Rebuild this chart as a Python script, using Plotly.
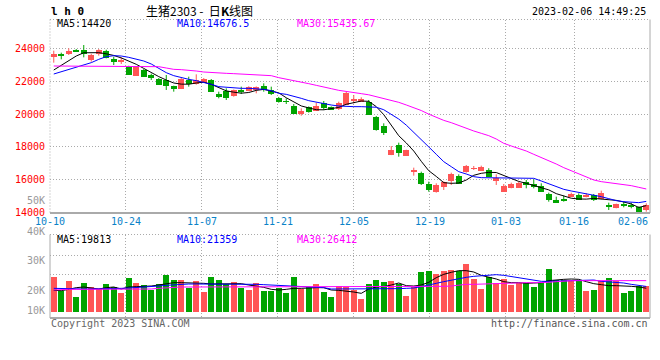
import plotly.graph_objects as go

# ---------------- data ----------------
dates = ["10-10","10-11","10-12","10-13","10-14","10-17","10-18","10-19","10-20","10-21",
         "10-24","10-25","10-26","10-27","10-28","10-31","11-01","11-02","11-03","11-04",
         "11-07","11-08","11-09","11-10","11-11","11-14","11-15","11-16","11-17","11-18",
         "11-21","11-22","11-23","11-24","11-25","11-28","11-29","11-30","12-01","12-02",
         "12-05","12-06","12-07","12-08","12-09","12-12","12-13","12-14","12-15","12-16",
         "12-19","12-20","12-21","12-22","12-23","12-26","12-27","12-28","12-29","12-30",
         "01-03","01-04","01-05","01-06","01-09","01-10","01-11","01-12","01-13","01-16",
         "01-17","01-18","01-19","01-20","01-30","01-31","02-01","02-02","02-03","02-06"]

open_ = [23506,23709,23709,23953,23953,23343,23709,23912,23384,23201,
         22936,22347,22733,22448,22184,22123,21717,21554,22123,21839,
         21940,22123,21269,21432,21127,21533,21432,21513,21717,21513,
         21025,20822,20517,20049,20456,20252,20700,20456,20354,20618,
         20862,20761,20761,19846,19277,17508,18118,17467,16530,16430,
         15740,15272,15577,15943,16227,16491,16700,16552,16633,15943,
         15272,15536,15536,15882,15740,15638,15130,14763,14784,14966,
         15069,15028,15110,14865,14500,14295,14560,14500,14356,14153]
high = [23872,23750,24014,23970,24217,23680,23970,23930,23506,23465,
        22950,22910,22750,22470,22200,22387,21737,22200,22286,22428,
        22200,22140,21371,21574,21500,21676,21700,21690,21879,21676,
        21050,20964,20619,20354,20470,20700,20801,20470,20761,21371,
        21168,21025,20862,19887,19440,18057,18260,17830,16735,16491,
        15882,15780,15900,16430,16328,16898,16837,16857,16700,16328,
        15740,15821,15882,15984,16025,15780,15211,14966,15028,15211,
        15170,15170,15130,15333,14600,14540,14661,14600,14370,14560]
low = [23140,23343,23607,23790,23465,23200,23567,23404,22997,23058,
       22387,22326,22270,22082,21780,21473,21371,21530,21676,21800,
       21900,21350,20964,20862,21066,21229,21400,21269,21371,21168,
       20700,20619,20008,19907,20090,20190,20252,20252,20252,20600,
       20659,20740,19990,18992,18727,17500,17406,17450,16247,15679,
       15272,15211,15374,15679,15760,16430,16593,16532,16170,15679,
       15250,15475,15510,15475,15475,15250,14661,14640,14661,14950,
       14763,14926,14702,14804,14153,14255,14316,14255,13970,14050]
close = [23709,23607,23872,23810,23709,23668,23953,23465,23201,23363,
         22428,22895,22286,22245,21798,21737,21554,22184,21879,22143,
         22184,21371,21066,21005,21473,21432,21676,21676,21473,21269,
         20761,20781,20049,20252,20151,20557,20395,20293,20700,21330,
         20964,20964,20008,19033,18870,17854,17650,17813,16560,15740,
         15374,15679,15882,16349,15780,16837,16735,16796,16186,16145,
         15638,15740,15821,15679,15577,15272,14763,14661,14763,15130,
         14804,15069,14804,15211,14356,14519,14417,14356,14010,14458]

ma5 = [22692,22977,23262,23546,23745,23750,23750,23680,23580,23430,
       23240,23040,22790,22520,22290,22080,21900,21830,21825,21900,
       21950,21820,21620,21420,21340,21280,21320,21450,21510,21420,
       21300,21000,20740,20500,20380,20270,20265,20330,20410,20600,
       20720,20800,20780,20460,19968,19346,18683,18244,17749,17123,
       16550,16200,15820,15780,15800,15980,16270,16390,16450,16440,
       16260,16085,15895,15780,15660,15540,15380,15150,14990,14870,
       14825,14815,14860,14830,14805,14740,14640,14520,14310,14420]
ma10 = [22448,22591,22733,22855,22997,23140,23343,23506,23566,23546,
        23465,23363,23241,23058,22794,22530,22347,22225,22123,22042,
        21940,21818,21676,21635,21615,21574,21574,21554,21513,21432,
        21269,21208,21107,20964,20822,20720,20618,20557,20497,20456,
        20456,20456,20450,20420,20270,20000,19700,19330,18900,18480,
        18000,17550,17100,16796,16491,16349,16186,16125,16125,16125,
        16125,16125,16125,16125,16085,15923,15740,15577,15414,15313,
        15231,15130,15048,14966,14845,14723,14661,14621,14601,14677]
ma30 = [22936,22936,22936,22936,22936,22936,22940,22940,22936,22936,
        22936,22930,22920,22910,22895,22814,22733,22713,22692,22631,
        22570,22530,22489,22489,22469,22448,22448,22408,22387,22347,
        22225,22143,22042,21940,21859,21757,21635,21554,21452,21371,
        21300,21250,21180,21070,20960,20850,20720,20560,20400,20220,
        20000,19790,19620,19480,19297,19135,18972,18830,18687,18484,
        18220,18057,17915,17752,17549,17366,17163,16959,16735,16553,
        16349,16186,15984,15882,15821,15780,15719,15638,15536,15436]

volume = [29870,18270,26970,12470,25230,21750,19720,23780,21750,15950,
          28990,24650,22910,18850,23780,31610,27260,27260,20590,26390,
          16820,29870,27260,24070,26100,20300,19140,25230,17690,17690,
          20880,15950,29870,19720,21170,23780,16820,12470,22620,21170,
          18850,11310,24360,27840,26100,26970,24070,13340,21170,34800,
          35670,33060,35670,36540,35670,41760,28710,19950,29870,24650,
          28130,22910,24650,25230,21750,26100,37410,27840,27840,26970,
          26390,18270,19140,26970,29580,26390,15950,18270,22620,22620]
vma5 = [17980,17690,18850,20300,20880,20010,19140,20300,20880,19140,
        20880,21170,21170,21750,22620,23490,24650,24650,24650,24650,
        24070,23490,23490,23490,23780,23780,22620,21750,20590,18850,
        18270,18850,19720,19720,20300,20300,20300,18270,17980,17400,
        16530,15370,19140,20880,21170,22620,24360,22040,21750,22620,
        24940,28990,31900,33640,35090,35090,33930,31030,29580,27840,
        25520,24650,24650,24070,24360,24650,26390,27260,27550,27840,
        27550,25520,23780,22910,22040,22040,22040,21460,20880,19813]
vma10 = [19720,19430,19430,19140,19140,19140,19140,19430,19720,19720,
         20010,20300,20590,21170,21750,22330,22910,23200,23490,23490,
         23490,23780,23780,23780,23780,23780,23490,23200,22910,22620,
         22040,21460,21170,20880,20590,20590,20300,19140,19140,18850,
         18850,18850,18850,18850,19140,19140,19430,19720,20010,21170,
         22330,24070,25520,26970,27840,29290,30160,30450,31030,31610,
         31030,29870,28990,27550,26680,25810,25810,26100,26390,26680,
         26970,26970,26970,25810,25520,24940,24360,23200,22040,21359]
vma30 = [18270,18850,18850,18850,18850,18850,18850,18850,18850,18850,
         18850,19140,19140,19140,19720,20300,20590,20880,20880,20880,
         20880,21170,21170,21170,21170,21170,21170,21170,21460,21460,
         21460,21460,21460,21460,21460,21460,21460,21170,20880,20880,
         20880,20880,20880,20880,20880,20880,20880,20880,20880,20880,
         20880,21170,21460,21750,22620,23200,23200,23490,23490,23780,
         24070,24070,24360,24650,24650,24650,24940,25520,26100,26390,
         26390,26390,26390,26390,26390,26390,26390,26390,26390,26412]

x_tick_labels = ["10-10", "10-24", "11-07", "11-21", "12-05", "12-19", "01-03", "01-16", "02-06"]
price_ticks = [14000, 16000, 18000, 20000, 22000, 24000, 26000]
vol_tick_labels = ["10K", "20K", "30K", "40K", "50K"]

title_code = "l h 0"
title_text = "生猪2303\u00a0-\u00a0\u00a0日<b>K</b>线图"
timestamp = "2023-02-06 14:49:25"
price_ma_labels = ["MA5:14420", "MA10:14676.5", "MA30:15435.67"]
vol_ma_labels = ["MA5:19813", "MA10:21359", "MA30:26412"]
copyright_text = "Copyright 2023 SINA.COM"
url_text = "http://finance.sina.com.cn"

for arr in (open_, high, low, close, ma5, ma10, ma30, volume, vma5, vma10, vma30):
    assert len(arr) == len(dates), len(arr)

# ---------------- style ----------------
W, H = 660, 360
X0, X1 = 50, 650
RED, GREEN = "#FF5555", "#00A400"
GRID = "#AAAAAA"
MONO = "DejaVu Sans Mono"
MA_COLORS = ["#000000", "#0000FF", "#FF00FF"]

N = len(dates)
idx = list(range(N))
up = [c >= o for o, c in zip(open_, close)]
colors = [RED if u else GREEN for u in up]

def py(p):  # pixel y -> paper y
    return 1 - p / H

def pxx(p):  # pixel x -> paper x
    return p / W

# price axis: 14000 at pixel 212.5, 61 per pixel
P_TOP, P_BOT = 19.5, 213.0
p_per_px = 61.0
y_range = [14000 - (P_BOT - 212.5) * p_per_px, 14000 + (212.5 - P_TOP) * p_per_px]
# volume axis: zero at pixel 311, 870 per pixel
V_TOP, V_BOT = 234.5, 318.0
v_per_px = 870.0
y2_range = [-(V_BOT - 311) * v_per_px, (311 - V_TOP) * v_per_px]

fig = go.Figure()

# wicks
for col, flag in ((RED, True), (GREEN, False)):
    xs, ys = [], []
    for i in idx:
        if up[i] == flag:
            xs += [i, i, None]
            ys += [low[i], high[i], None]
    fig.add_trace(go.Scatter(x=xs, y=ys, mode="lines", line=dict(color=col, width=1),
                             hoverinfo="skip", showlegend=False, xaxis="x", yaxis="y"))
# bodies
bases = [min(o, c) for o, c in zip(open_, close)]
heights = [max(abs(c - o), 45) for o, c in zip(open_, close)]
fig.add_trace(go.Bar(x=idx, y=heights, base=bases, width=0.8, marker=dict(color=colors, line=dict(width=0)),
                     hoverinfo="skip", showlegend=False, xaxis="x", yaxis="y"))
# price MAs
for arr, col in zip((ma5, ma10, ma30), MA_COLORS):
    fig.add_trace(go.Scatter(x=idx, y=arr, mode="lines", line=dict(color=col, width=1),
                             hoverinfo="skip", showlegend=False, xaxis="x", yaxis="y"))
# volume
fig.add_trace(go.Bar(x=idx, y=volume, width=0.8, marker=dict(color=colors, line=dict(width=0)),
                     hoverinfo="skip", showlegend=False, xaxis="x2", yaxis="y2"))
for arr, col in zip((vma5, vma10, vma30), MA_COLORS):
    fig.add_trace(go.Scatter(x=idx, y=arr, mode="lines", line=dict(color=col, width=1),
                             hoverinfo="skip", showlegend=False, xaxis="x2", yaxis="y2"))

tick_pos = [dates.index(t) * N / (N - 1) - 0.5 for t in x_tick_labels]

xcommon = dict(range=[-0.5, N - 0.5], domain=[pxx(X0), pxx(X1)], tickvals=tick_pos,
               showticklabels=False, showgrid=True, gridcolor=GRID, griddash="1px,2px",
               gridwidth=1, zeroline=False, showline=False, ticks="", fixedrange=True)

fig.update_layout(
    width=W, height=H, autosize=False,
    margin=dict(l=0, r=0, t=0, b=0),
    paper_bgcolor="white", plot_bgcolor="white",
    barmode="overlay", bargap=0,
    xaxis=dict(anchor="y", **xcommon),
    xaxis2=dict(anchor="y2", **xcommon),
    yaxis=dict(domain=[py(P_BOT), py(P_TOP)], range=y_range, tickvals=price_ticks[1:-1],
               showticklabels=False, showgrid=True, gridcolor=GRID, griddash="1px,2px",
               zeroline=False, showline=False, ticks=""),
    yaxis2=dict(domain=[py(V_BOT), py(V_TOP)], range=y2_range,
                tickvals=[(311 - 274.7) * v_per_px, (311 - 255.3) * v_per_px],
                showticklabels=False, showgrid=True, gridcolor=GRID, griddash="1px,2px",
                zeroline=False, showline=False, ticks=""),
    font=dict(family=MONO, size=10, color="#000000"),
)

# frames
def line(x0, y0, x1, y1, dash="solid", width=1):
    fig.add_shape(type="line", xref="paper", yref="paper", x0=pxx(x0), y0=py(y0), x1=pxx(x1), y1=py(y1),
                  line=dict(color=GRID, width=width, dash=dash), layer="above")

line(X0, P_TOP, X1, P_TOP, dash="1px,2px")
line(X0, P_TOP, X0, P_BOT, dash="1px,2px")
line(X1, P_TOP, X1, P_BOT)
line(X0, P_BOT, X1, P_BOT, width=2)
line(X0, V_TOP, X1, V_TOP, dash="1px,2px")
line(X0, V_TOP, X0, V_BOT)
line(X1, V_TOP, X1, V_BOT)
line(X0, V_BOT, X1, V_BOT, width=2)

ann = []
def text(t, x, y, color="#000000", xanchor="left", size=10, family=MONO, xref="paper", yref="paper"):
    ann.append(dict(text=t, x=x, y=y, xref=xref, yref=yref, xanchor=xanchor, yanchor="middle",
                    showarrow=False, font=dict(family=family, size=size, color=color)))

# price labels
for v in price_ticks:
    text(str(v), pxx(47), v, color="#FF0000", xanchor="right", yref="y")
# volume labels (placed as in the source chart)
for t, yp in zip(vol_tick_labels, [310.7, 290.7, 260.7, 231.5, 200.7]):
    text(t, pxx(47), py(yp), color="#999999", xanchor="right")
# x labels
for k, (t, p) in enumerate(zip(x_tick_labels, tick_pos)):
    xa = "right" if k == len(x_tick_labels) - 1 else "center"
    text(t, p, py(221), color="#0A82C8", xanchor=xa, xref="x")
# headers
text("<b>" + title_code + "</b>", pxx(49), py(11.5), size=11)
text(title_text, pxx(199), py(10.5), xanchor="center", size=12, family="Noto Sans CJK SC")
text(timestamp, pxx(648), py(11.5), xanchor="right")
for t, xp, col in zip(price_ma_labels, [55, 175, 295], MA_COLORS):
    text(t, pxx(xp), py(24), color=col)
for t, xp, col in zip(vol_ma_labels, [55, 175, 295], MA_COLORS):
    text(t, pxx(xp), py(239), color=col)
text(copyright_text, pxx(49), py(323.5), color="#666666")
text(url_text, pxx(650), py(323.5), color="#555555", xanchor="right")

fig.update_layout(annotations=ann)
fig.write_html("out.html", config={"displayModeBar": False},
               post_script="document.body.style.margin='0';document.body.style.overflow='hidden';")
